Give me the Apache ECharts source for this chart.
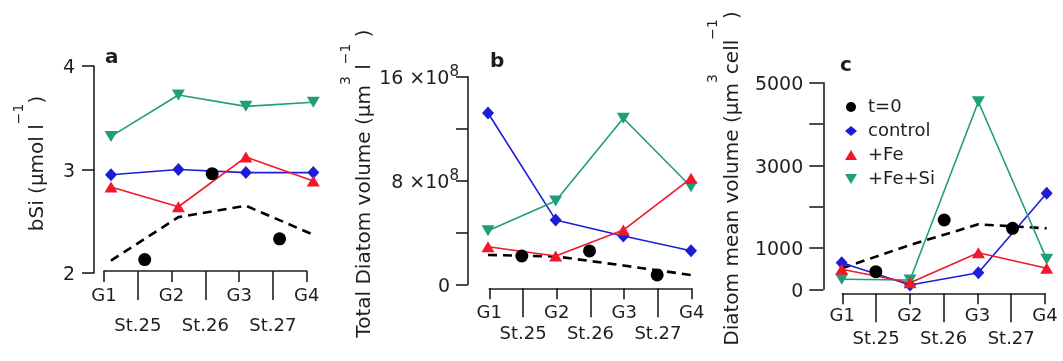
<!DOCTYPE html>
<html><head><meta charset="utf-8">
<script src="https://cdn.jsdelivr.net/npm/echarts@6/dist/echarts.min.js"></script>
<style>html,body{margin:0;padding:0;background:#fff}#c{width:1063px;height:361px}</style>
</head><body><div id="c"></div>
<script>
// ---- categories / tick labels ----
const gLabels = ['G1', 'G2', 'G3', 'G4'];
const stLabels = ['St.25', 'St.26', 'St.27'];
const gPos = [0, 2, 4, 6];      // positions of G1..G4 along the x scale
const stPos = [1, 3, 5];        // positions of St.25..St.27
const legendNames = ['t=0', 'control', '+Fe', '+Fe+Si'];

// ---- panel a: bSi (µmol l-1) ----
const aControl = [2.95, 3.00, 2.97, 2.97];
const aFe      = [2.83, 2.64, 3.12, 2.89];
const aFeSi    = [3.32, 3.72, 3.61, 3.65];
const aT0      = [2.13, 2.96, 2.33];
const aDash    = [2.12, 2.54, 2.65, 2.37];

// ---- panel b: total diatom volume (units of 10^8 µm3 l-1) ----
const bControl = [13.2, 4.96, 3.72, 2.59];
const bFe      = [2.90, 2.18, 4.18, 8.17];
const bFeSi    = [4.13, 6.42, 12.8, 7.52];
const bT0      = [2.18, 2.57, 0.72];
const bDash    = [2.26, 2.15, 1.45, 0.72];

// ---- panel c: diatom mean volume (µm3 cell-1) ----
const cControl = [644, 104, 402, 2323];
const cFe      = [484, 160, 886, 508];
const cFeSi    = [242, 225, 4540, 726];
const cT0      = [426, 1677, 1476];
const cDash    = [508, 1072, 1573, 1476];

const cLabelValues = [0, 1000, 3000, 5000];

const FONT = 'DejaVu Sans';
const INK = '#1e1e1e';
const BLUE = '#1d1dd8', RED = '#f0182a', GREEN = '#1f9f78', BLACK = '#000000';
const INV_TRI = 'path://M0,0L12,0L6,10Z';
const pts = (xs, ys) => xs.map((x, i) => [x, ys[i]]);

const panels = [
  {
    letter: 'a', letterPos: {left: 105, top: 48},
    data: {left: 111, top: 66, width: 202.3, height: 207},
    disp: {left: 104, width: 202.7, bottom: 271},
    yOffset: 17,
    y: {min: 2, max: 4, interval: 1, margin: 19, tick: 12, fmt: v => '{n|' + v + '}'},
    name: '{n|bSi (µmol l}{s|−1}{n|)}', nameGap: 46, namePad: [0, 0, 0, 12],
    gMargin: 16, stMargin: 46,
    control: aControl, fe: aFe, fesi: aFeSi, t0: aT0, dash: aDash
  },
  {
    letter: 'b', letterPos: {left: 490, top: 52},
    data: {left: 488, top: 76.7, width: 203, height: 207.6},
    disp: {left: 489.3, width: 202.4, bottom: 288.3},
    yOffset: 20,
    y: {min: 0, max: 16, interval: 4, margin: 9, tick: 12,
        fmt: v => v === 0 ? '{n|0}{p|}' : (v === 8 || v === 16 ? '{n|' + v + ' ×10}{s|8}' : '')},
    name: '{n|Total Diatom volume (µm}{s|3}{n| l}{s|−1}{n| )}', nameGap: 87, namePad: [0, 6, 0, 0],
    gMargin: 16, stMargin: 37,
    control: bControl, fe: bFe, fesi: bFeSi, t0: bT0, dash: bDash
  },
  {
    letter: 'c', letterPos: {left: 840, top: 56},
    data: {left: 841.7, top: 82.7, width: 205, height: 206.6},
    disp: {left: 842.3, width: 202.7, bottom: 293.3},
    yOffset: 18.4,
    y: {min: 0, max: 5000, interval: 1000, margin: 20, tick: 14,
        fmt: v => cLabelValues.indexOf(v) >= 0 ? '{n|' + v + '}' : ''},
    name: '{n|Diatom mean volume (µm}{s|3}{n|cell}{s|−1}{n|)}', nameGap: 81, namePad: [0, 0, 0, 15],
    gMargin: 14.5, stMargin: 37.5,
    control: cControl, fe: cFe, fesi: cFeSi, t0: cT0, dash: cDash
  }
];

const axisLine = {show: true, onZero: false, lineStyle: {color: INK, width: 1.6}};
const tickStyle = {color: INK, width: 1.6};
const labelBase = {fontFamily: FONT, color: INK};

const grid = [], xAxis = [], yAxis = [], series = [], title = [];

panels.forEach((p, k) => {
  const dg = grid.length;
  grid.push({left: p.data.left, top: p.data.top, width: p.data.width, height: p.data.height});
  grid.push({left: p.disp.left, top: p.data.top, width: p.disp.width, height: p.disp.bottom - p.data.top});
  const xi = xAxis.length;
  // hidden data x axis
  xAxis.push({gridIndex: dg, type: 'value', min: 0, max: 6, show: false});
  // G axis
  xAxis.push({
    gridIndex: dg + 1, type: 'value', min: 0, max: 6, position: 'bottom',
    axisLine: axisLine,
    axisTick: {show: true, length: 11, customValues: gPos, lineStyle: tickStyle},
    axisLabel: Object.assign({customValues: gPos, margin: p.gMargin, fontSize: 18,
      formatter: v => gLabels[gPos.indexOf(v)] || ''}, labelBase),
    splitLine: {show: false}
  });
  // St axis
  xAxis.push({
    gridIndex: dg + 1, type: 'value', min: 0, max: 6, position: 'bottom',
    axisLine: {show: false, onZero: false},
    axisTick: {show: true, length: 29, customValues: stPos, lineStyle: tickStyle},
    axisLabel: Object.assign({customValues: stPos, margin: p.stMargin, fontSize: 18,
      formatter: v => stLabels[stPos.indexOf(v)] || ''}, labelBase),
    splitLine: {show: false}
  });
  const yi = yAxis.length;
  yAxis.push({
    gridIndex: dg, type: 'value', min: p.y.min, max: p.y.max, interval: p.y.interval,
    offset: p.yOffset,
    axisLine: axisLine,
    axisTick: {show: true, length: p.y.tick, lineStyle: tickStyle},
    axisLabel: Object.assign({margin: p.y.margin, fontSize: 19, formatter: p.y.fmt,
      rich: {
        n: {fontFamily: FONT, fontSize: 19, color: INK, lineHeight: 24, verticalAlign: 'bottom'},
        s: {fontFamily: FONT, fontSize: 15, color: INK, lineHeight: 15, verticalAlign: 'top'},
        p: {width: 9, lineHeight: 24}
      }}, labelBase),
    splitLine: {show: false},
    name: p.name, nameLocation: 'middle', nameRotate: 90, nameGap: p.nameGap,
    nameTextStyle: {fontFamily: FONT, fontSize: 20, color: INK, padding: p.namePad,
      rich: {
        n: {fontFamily: FONT, fontSize: 20, color: INK, lineHeight: 36, verticalAlign: 'bottom'},
        s: {fontFamily: FONT, fontSize: 14, color: INK, lineHeight: 14, verticalAlign: 'top'}
      }}
  });
  yAxis.push({gridIndex: dg + 1, type: 'value', min: 0, max: 1, show: false});

  const common = {xAxisIndex: xi, yAxisIndex: yi, animation: false};
  series.push(Object.assign({type: 'line', name: 'dashed', data: pts(gPos, p.dash), showSymbol: false,
    lineStyle: {color: BLACK, width: 2.6, type: [9, 6]}, z: 1}, common));
  series.push(Object.assign({type: 'line', name: 'control', data: pts(gPos, p.control),
    symbol: 'diamond', symbolSize: [12, 13], itemStyle: {color: BLUE, opacity: 1},
    lineStyle: {color: BLUE, width: 1.6}, z: 2}, common));
  series.push(Object.assign({type: 'line', name: '+Fe+Si', data: pts(gPos, p.fesi),
    symbol: INV_TRI, symbolSize: [13, 11], itemStyle: {color: GREEN, opacity: 1},
    lineStyle: {color: GREEN, width: 1.6}, z: 3}, common));
  series.push(Object.assign({type: 'line', name: '+Fe', data: pts(gPos, p.fe),
    symbol: 'triangle', symbolSize: [13, 11], itemStyle: {color: RED, opacity: 1},
    lineStyle: {color: RED, width: 1.6}, z: 4}, common));
  series.push(Object.assign({type: 'scatter', name: 't=0', data: pts(stPos, p.t0),
    symbol: 'circle', symbolSize: 13, itemStyle: {color: BLACK, opacity: 1}, z: 5}, common));

  title.push({text: p.letter, left: p.letterPos.left, top: p.letterPos.top, padding: 0,
    textStyle: {fontFamily: FONT, fontWeight: 'bold', fontSize: 20, color: INK}});
});

const option = {
  animation: false,
  backgroundColor: '#ffffff',
  title: title,
  grid: grid, xAxis: xAxis, yAxis: yAxis, series: series,
  legend: {
    orient: 'vertical', left: 840, top: 92, itemWidth: 12, itemHeight: 10, itemGap: 4,
    selectedMode: false,
    textStyle: {fontFamily: FONT, fontSize: 18, color: INK, lineHeight: 20, padding: [0, 0, 0, 6]},
    data: [
      {name: legendNames[0], icon: 'circle', itemStyle: {opacity: 1}},
      {name: legendNames[1], icon: 'diamond'},
      {name: legendNames[2], icon: 'triangle'},
      {name: legendNames[3], icon: INV_TRI}
    ]
  }
};

const chart = echarts.init(document.getElementById('c'), null, {renderer: 'canvas'});
chart.setOption(option);
</script>
</body></html>
